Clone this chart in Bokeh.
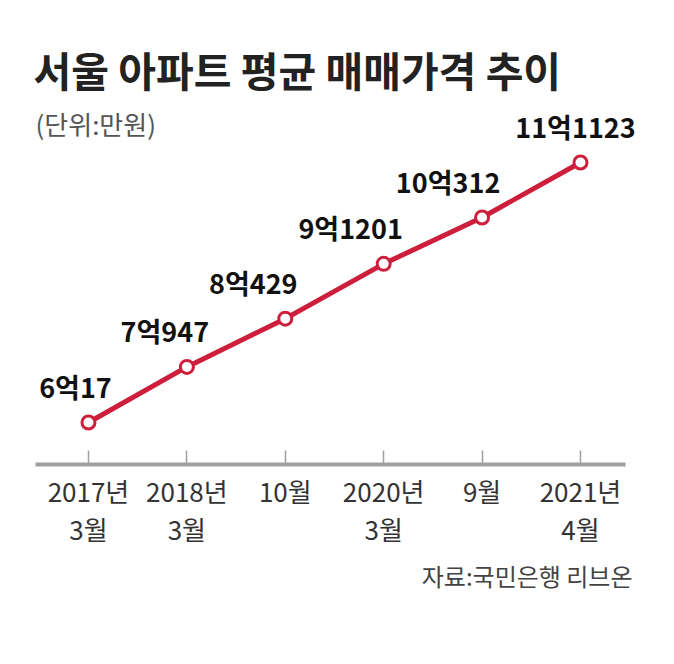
from bokeh.plotting import figure
from bokeh.models import ColumnDataSource, Range1d, FixedTicker, Label
from bokeh.core.properties import value
from bokeh.embed import file_html
from bokeh.resources import INLINE

# ---- data ----
periods = ["2017년\n3월", "2018년\n3월", "10월", "2020년\n3월", "9월", "2021년\n4월"]
prices = [60017, 70947, 80429, 91201, 100312, 111123]  # 만원
price_labels = ["6억17", "7억947", "8억429", "9억1201", "10억312", "11억1123"]
title_text = "서울 아파트 평균 매매가격 추이"
unit_text = "(단위:만원)"
source_text = "자료:국민은행 리브온"

# label placement (screen px offsets)
label_dx = [-13, -22, -32, -33, -34, -5]

FONT = "Noto Sans CJK KR"
RED = "#cd1f3c"

xs = list(range(len(periods)))

p = figure(width=658, height=648, output_backend="svg", toolbar_location=None,
           x_range=Range1d(-0.894, 5.793), y_range=Range1d(15594, 142965),
           min_border_left=0, min_border_right=0, min_border_top=0, min_border_bottom=0)
p.background_fill_color = "white"
p.border_fill_color = "white"
p.outline_line_color = None
p.grid.visible = False
p.yaxis.visible = False

ax = p.xaxis[0]
ax.fixed_location = 51761
ax.bounds = (-0.539, 5.457)
ax.ticker = FixedTicker(ticks=xs)
ax.major_label_overrides = {i: t for i, t in enumerate(periods)}
ax.axis_line_color = "#a0a0a0"
ax.axis_line_width = 4
ax.major_tick_line_color = "#a0a0a0"
ax.major_tick_line_width = 1.5
ax.major_tick_in = 14
ax.major_tick_out = 0
ax.minor_tick_line_color = None
ax.major_label_text_font = FONT
ax.major_label_text_font_size = "26px"
ax.major_label_text_color = "#333333"
ax.major_label_text_line_height = 1.05
ax.major_label_standoff = 7

src = ColumnDataSource(dict(x=xs, y=prices, label=price_labels, dx=label_dx))
p.line("x", "y", source=src, line_color=RED, line_width=5)
p.scatter("x", "y", source=src, size=13, fill_color="white", line_color=RED, line_width=3)
p.text("x", "y", text="label", source=src, x_offset="dx", y_offset=-36,
       text_font=value(FONT), text_font_style="bold", text_font_size="27px",
       text_color="#111111", text_align="center", text_baseline="alphabetic")

p.add_layout(Label(x=33, y=580, x_units="screen", y_units="screen", text=title_text,
                   text_font=FONT, text_font_style="bold", text_font_size="41px",
                   text_color="#222222", text_baseline="middle", text_align="left"))
p.add_layout(Label(x=35, y=525, x_units="screen", y_units="screen", text=unit_text,
                   text_font=FONT, text_font_size="26px",
                   text_color="#555555", text_baseline="middle", text_align="left"))
p.add_layout(Label(x=632, y=73, x_units="screen", y_units="screen", text=source_text,
                   text_font=FONT, text_font_size="24px",
                   text_color="#444444", text_baseline="middle", text_align="right"))

open("out.html", "w").write(file_html(p, INLINE))
